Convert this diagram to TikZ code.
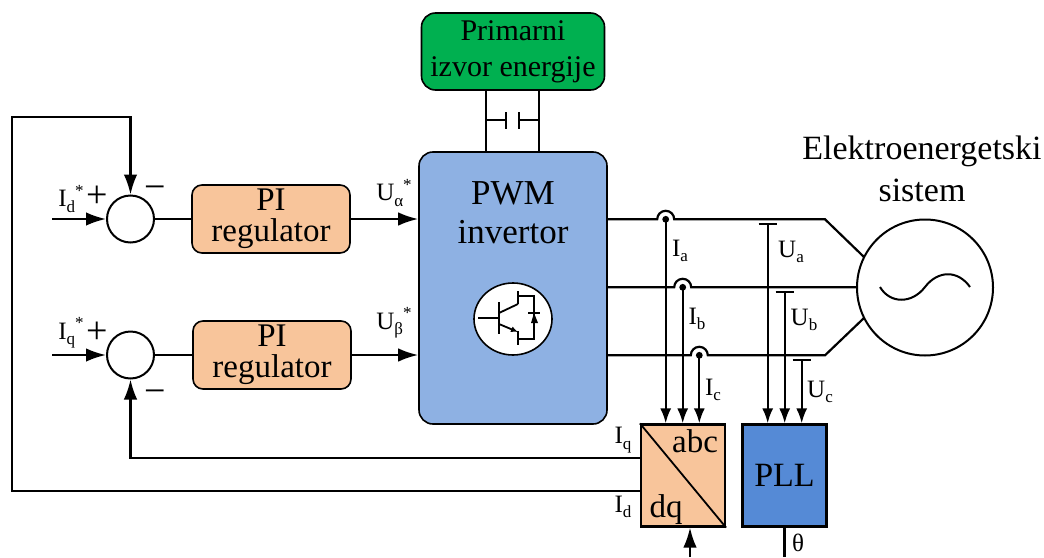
\documentclass[tikz,border=0pt]{standalone}
\usepackage{fontspec}
\setmainfont{Liberation Serif}
\usetikzlibrary{arrows.meta, positioning, shapes.geometric}
\definecolor{srcgreen}{HTML}{00B050}
\definecolor{pibox}{HTML}{F8C59B}
\definecolor{invblue}{HTML}{8EB1E3}
\definecolor{pllblue}{HTML}{558AD6}
\newcommand{\tinytxt}{\fontsize{17}{17}\selectfont}
\newcommand{\subt}[2]{#1\raisebox{-.22em}{\tinytxt #2}}
\newcommand{\subs}[2]{#1\raisebox{-.22em}{\tinytxt #2}\raisebox{.42em}{\tinytxt *}}
\tikzset{
	wire/.style={line width=2.2pt},
	flow/.style={wire,-{Latex[length=20pt,width=13.5pt]}},
	flowsmall/.style={wire,-{Latex[length=15pt,width=11pt]}},
	block/.style={draw,line width=1.6pt,rounded corners=14pt,inner sep=0pt,align=center},
	blockb/.style={draw,line width=2.2pt,inner sep=0pt},
	sumnode/.style={draw,circle,line width=2pt,fill=white,minimum size=47pt,inner sep=0pt},
	lbl/.style={inner sep=0pt,font=\fontsize{25}{25}\selectfont},
	sign/.style={inner sep=0pt,font=\fontsize{38}{38}\selectfont},
	big/.style={inner sep=0pt,align=center,font=\fontsize{34}{42}\selectfont}
}

\begin{document}
\begin{tikzpicture}[x=1pt,y=-1pt]
	\useasboundingbox (0,0) rectangle (1044,557);
	\node[block,fill=srcgreen,minimum width=183pt,minimum height=77pt,font=\fontsize{30}{36}\selectfont] (src) at (513,51.5) {Primarni\\izvor energije};
	\node[block,fill=invblue,minimum width=188pt,minimum height=272pt] (inv) at (513,288) {};
	\node[inner sep=0pt,align=center,font=\fontsize{35}{39}\selectfont] (invtxt) at (513,213) {PWM\\invertor};
	\node[sumnode] (sumd) at (130.5,219) {};
	\node[sumnode] (sumq) at (130.5,355) {};
	\node[block,fill=pibox,rounded corners=10pt,minimum width=158pt,minimum height=68pt,font=\fontsize{33}{31}\selectfont] (pid) at (271,219) {PI\\regulator};
	\node[block,fill=pibox,rounded corners=10pt,minimum width=158pt,minimum height=68pt,font=\fontsize{33}{31}\selectfont] (piq) at (272,355) {PI\\regulator};
	\node[blockb,fill=pibox,minimum width=84pt,minimum height=102pt] (conv) at (683,475.5) {};
	\node[blockb,fill=pllblue,minimum width=84pt,minimum height=102pt,font=\fontsize{34}{34}\selectfont] (pll) at (784.5,475.5) {PLL};
	\node[draw,circle,line width=2pt,minimum size=136pt,inner sep=0pt] (grid) at (925,287.5) {};
	\node[big] (gridtxt) at (922,169) {Elektroenergetski\\sistem};

	\coordinate (indd) at (52,219);
	\coordinate (indq) at (52,355);
	\draw[flow] (indd) -- (sumd.west);
	\draw[flow] (indq) -- (sumq.west);
	\draw[wire] (sumd.east) -- (sumd.east -| pid.west);
	\draw[wire] (sumq.east) -- (sumq.east -| piq.west);
	\draw[flow] (pid.east) -- (pid.east -| inv.west);
	\draw[flow] (piq.east) -- (piq.east -| inv.west);

	\coordinate (fbid) at (conv.west |- 0,491);
	\coordinate (fbiq) at (conv.west |- 0,458);
	\draw[flow] (fbid) -| (12,117) -| (sumd.north);
	\draw[flow] (fbiq) -| (sumq.south);

	\draw[wire] (486,0 |- src.south) -- (486,0 |- inv.north);
	\draw[wire] (539,0 |- src.south) -- (539,0 |- inv.north);
	\coordinate (capl) at (506,120);
	\coordinate (capr) at (519,120);
	\draw[wire] (486,120) -- (capl);
	\draw[wire] (539,120) -- (capr);
	\draw[wire,line width=2.6pt] (506,112) -- (506,129);
	\draw[wire,line width=2.6pt] (519,112) -- (519,129);

	\coordinate (jumpa) at (665.7,219.3);
	\coordinate (jumpb) at (682.7,287.3);
	\coordinate (jumpc) at (699.3,355.3);
	\coordinate (benda) at (825,219.3);
	\coordinate (bendc) at (825,355.3);
	\draw[wire] (inv.east |- jumpa) -- ([xshift=-8.5pt]jumpa) arc[start angle=180,end angle=0,radius=8.5pt] -- (benda) -- (864,257);
	\draw[wire] (inv.east |- jumpb) -- ([xshift=-8.5pt]jumpb) arc[start angle=180,end angle=0,radius=8.5pt] -- (grid.west |- jumpb);
	\draw[wire] (inv.east |- jumpc) -- ([xshift=-8.5pt]jumpc) arc[start angle=180,end angle=0,radius=8.5pt] -- (bendc) -- (864,318);
	\foreach \ph in {a,b,c}{
		\fill (jump\ph) circle (3.4pt);
		\draw[flowsmall] (jump\ph) -- (jump\ph |- conv.north);
	}
	\coordinate (capua) at (767.7,223.7);
	\coordinate (capub) at (784.7,291.7);
	\coordinate (capuc) at (801.7,360);
	\foreach \ph in {a,b,c}{
		\draw[flowsmall] (capu\ph) -- (capu\ph |- pll.north);
		\draw[wire] ([xshift=-9pt]capu\ph) -- ([xshift=9pt]capu\ph);
	}

	\draw[line width=1.8pt] (conv.north west) -- (conv.south east);
	\node[inner sep=0pt,font=\fontsize{33}{33}\selectfont] (abctxt) at (695,441) {abc};
	\node[inner sep=0pt,font=\fontsize{33}{33}\selectfont] (dqtxt) at (666,510) {dq};
	\coordinate (dqin) at (690,557);
	\draw[flow] (dqin) -- (dqin |- conv.south);
	\coordinate (thetaout) at (pll.south |- dqin);
	\draw[wire] (pll.south) -- (thetaout);

	\draw[line width=2pt] (880,287) .. controls (890,304) and (912,304) .. (925,287) .. controls (938,270) and (958,270) .. (970,287);

	\node[lbl] (lid) at (71,199) {\subs{I}{d}};
	\node[lbl] (liq) at (71,333) {\subs{I}{q}};
	\node[sign] (pd) at (97,197) {+};
	\node[sign] (pq) at (97,333) {+};
	\node[sign] (md) at (155.5,193) {−};
	\node[sign] (mq) at (155.5,397) {−};
	\node[lbl] (lua) at (394,193) {\subs{U}{α}};
	\node[lbl] (lub) at (394,323) {\subs{U}{β}};
	\node[lbl] (lia) at (680,251) {\subt{I}{a}};
	\node[lbl] (lib) at (697,319) {\subt{I}{b}};
	\node[lbl] (lic) at (713,390) {\subt{I}{c}};
	\node[lbl] (lva) at (791,252) {\subt{U}{a}};
	\node[lbl] (lvb) at (804,320) {\subt{U}{b}};
	\node[lbl] (lvc) at (820,392) {\subt{U}{c}};
	\node[lbl] (liqc) at (623,440) {\subt{I}{q}};
	\node[lbl] (lidc) at (623,507) {\subt{I}{d}};
	\node[lbl] (ltheta) at (798,543) {θ};

	\node[draw,ellipse,line width=1.6pt,fill=white,minimum width=78pt,minimum height=72pt,inner sep=0pt] (igbt) at (513,319) {};
	\draw[wire] (478,318) -- (499,318);
	\draw[wire] (499,302) -- (499,334);
	\draw[line width=1.8pt] (499,313) -- (518,304);
	\draw[line width=1.8pt,-{Latex[length=7pt,width=6pt]}] (499,324) -- (518,332);
	\draw[wire] (518,291) -- (518,304);
	\draw[wire] (518,331) -- (518,345);
	\draw[line width=1.6pt] (518,296) -| (534,339) -- (518,339);
	\fill (534,313) -- (538,323) -- (531,323) -- cycle;
	\draw[line width=1.2pt] (528,313) -- (540,313);
\end{tikzpicture}
\end{document}
